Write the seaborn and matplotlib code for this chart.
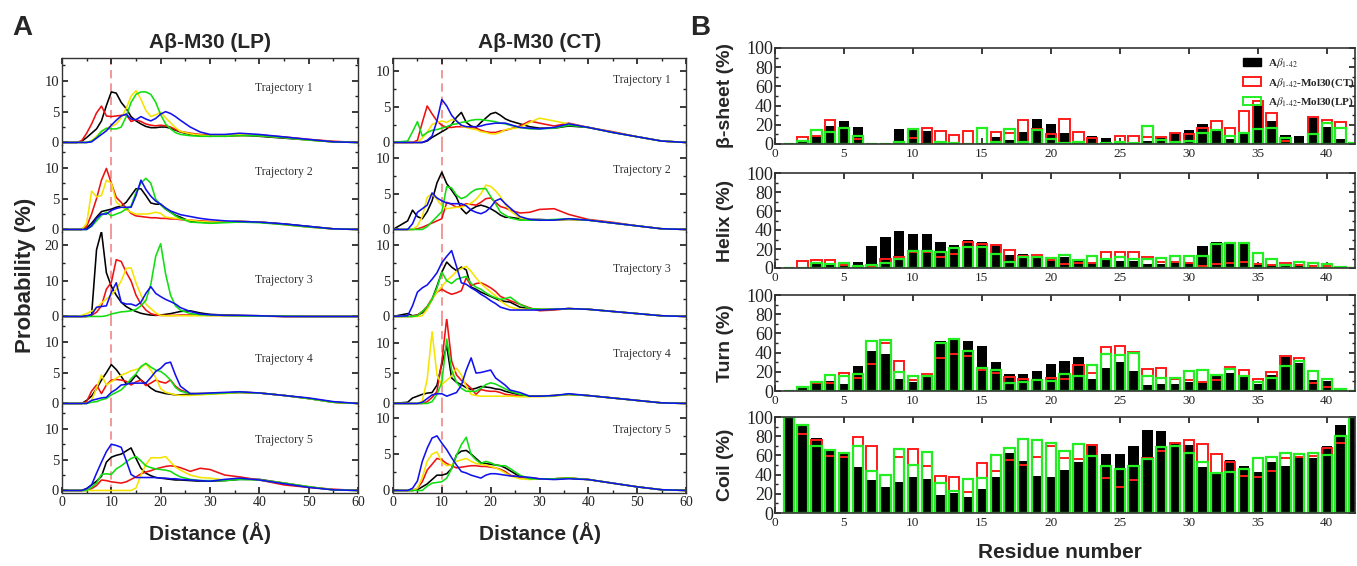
import matplotlib
matplotlib.use('Agg')
import matplotlib.pyplot as plt
from matplotlib.patches import Patch
from matplotlib.ticker import MultipleLocator
import seaborn as sns

# ---------------- Panel A: distance distributions ----------------
DIST = [0, 3, 4, 5, 6, 7, 8, 9, 10, 11, 12, 13, 14, 15, 16, 17, 18, 19, 20, 21, 22,
        23, 24, 26, 28, 30, 33, 36, 40, 45, 50, 55, 60]

LP_TRAJ1 = {
    'black':  [0, 0, 0.2, 0.8, 1.5, 2.2, 3.5, 6, 8.2, 8, 6.5, 5.5, 4.2, 3.5, 3, 2.6, 2.4, 2.4, 2.5, 2.5, 2.3, 2, 1.7, 1.3, 1.1, 1, 1.1, 1.2, 1, 0.7, 0.4, 0.1, 0],
    'red':    [0, 0, 0.3, 1.5, 3, 4.8, 5.9, 4.3, 4.2, 4.3, 4.4, 4.5, 3.4, 3.7, 3.4, 3, 2.8, 2.7, 2.8, 2.7, 2.5, 2.1, 1.8, 1.5, 1.3, 1.2, 1, 1.1, 1.2, 0.9, 0.5, 0.2, 0],
    'yellow': [0, 0, 0, 0, 0.3, 1, 1.8, 2.3, 2.6, 3, 4, 5.5, 7.5, 8.4, 7, 5.2, 4.2, 4.5, 4.9, 4, 3.2, 2.4, 1.8, 1.4, 1.2, 1.1, 1.1, 1.3, 1.1, 0.8, 0.4, 0.1, 0],
    'green':  [0, 0, 0, 0, 0.2, 0.8, 1.8, 2.3, 2.2, 2.2, 2.5, 4.2, 6.5, 7.8, 8.2, 8.2, 7.8, 6.5, 4.5, 3, 2.2, 1.6, 1.3, 1.1, 1, 1, 1, 1.1, 1.1, 0.8, 0.4, 0.1, 0],
    'blue':   [0, 0, 0, 0, 0.1, 0.7, 1.3, 1.9, 2.8, 3.6, 4.3, 4.6, 3.8, 3.7, 4.2, 3.8, 3.5, 3.9, 4.6, 5, 4.7, 4.2, 3.6, 2.5, 1.7, 1.3, 1.3, 1.5, 1.3, 0.9, 0.5, 0.1, 0],
}
LP_TRAJ2 = {
    'black':  [0, 0, 0, 0.2, 1, 2, 2.9, 3.1, 3.3, 3.6, 3.8, 4.4, 5.5, 6.6, 6.6, 5.5, 4.3, 4.1, 4.1, 3.3, 2.8, 2.3, 2, 1.3, 1.2, 1.1, 1.2, 1.3, 1.2, 0.9, 0.5, 0.1, 0],
    'red':    [0, 0, 0, 0.5, 2.5, 5, 8, 9.9, 7.5, 5.2, 4.4, 3.5, 2.6, 2.2, 2.1, 2, 1.9, 1.9, 1.8, 1.8, 1.7, 1.7, 1.6, 1.5, 1.4, 1.3, 1.2, 1.3, 1.2, 0.8, 0.4, 0.1, 0],
    'yellow': [0, 0, 0, 1, 6.2, 5.3, 5.5, 8, 7.5, 4.4, 3.8, 3.2, 2.8, 2.5, 2.5, 2.5, 2.6, 2.8, 2.6, 2, 1.9, 1.8, 1.7, 1.5, 1.3, 1.2, 1.2, 1.3, 1.2, 0.8, 0.4, 0.1, 0],
    'green':  [0, 0, 0, 0, 0.5, 1.4, 2.3, 2.8, 2.2, 2.5, 2.8, 3.3, 3.8, 6, 7.5, 8.3, 7.5, 4.9, 4, 3.3, 2.8, 2.2, 1.8, 1.2, 1.1, 1, 1.1, 1.2, 1.1, 0.8, 0.4, 0.1, 0],
    'blue':   [0, 0, 0, 0, 0.6, 1.8, 2.5, 2.5, 3.1, 3.4, 3.6, 3.6, 3.6, 5.5, 8, 6.5, 5.4, 4.6, 4.1, 3.5, 3, 2.7, 2.4, 2.1, 1.8, 1.6, 1.4, 1.3, 1.2, 0.9, 0.5, 0.1, 0],
}
LP_TRAJ3 = {
    'black':  [0, 0, 0, 0, 0.5, 18.8, 24, 12.3, 8.5, 6, 4, 2.8, 2, 1.4, 0.9, 0.6, 0.4, 0.3, 0.4, 0.6, 0.8, 1.1, 1.4, 1.6, 1, 0.6, 0.4, 0.3, 0.2, 0, 0, 0, 0],
    'red':    [0, 0, 0, 0, 0.3, 1.2, 3, 7.7, 9.6, 16, 15.5, 12.5, 10, 6, 3.5, 1.8, 0.8, 0.4, 0.3, 0.3, 0.3, 0.3, 0.4, 0.4, 0.4, 0.3, 0.3, 0.2, 0.1, 0, 0, 0, 0],
    'yellow': [0, 0, 0.3, 0.8, 1.5, 2.3, 3.8, 4.9, 6, 7.7, 10, 13.5, 13.7, 9.5, 6, 3.5, 2.2, 1, 0.3, 0.2, 0.2, 0.2, 0.2, 0.2, 0.2, 0.2, 0.2, 0.1, 0.1, 0, 0, 0, 0],
    'green':  [0, 0, 0, 0, 0, 0, 0, 0.2, 0.7, 1, 1.3, 1.4, 1.6, 2, 3, 4.5, 9, 17, 20.5, 12, 6, 3, 1.8, 0.8, 0.5, 0.4, 0.3, 0.2, 0.1, 0.1, 0, 0, 0],
    'blue':   [0, 0, 0, 0.2, 0.5, 2.6, 2.8, 3, 6.8, 9.5, 4, 3.5, 3.5, 3, 4, 6.5, 8.4, 6.5, 5.6, 4.8, 4.2, 3.5, 2.5, 1.4, 0.7, 0.5, 0.3, 0.3, 0.2, 0, 0, 0, 0],
}
LP_TRAJ4 = {
    'black':  [0, 0, 0, 0.5, 1.2, 2.4, 3.8, 5, 6.3, 5.5, 4.4, 3.2, 3.6, 4.6, 3.8, 3.2, 2.5, 2, 1.8, 1.6, 1.5, 1.4, 1.4, 1.5, 1.6, 1.6, 1.7, 1.8, 1.7, 1.3, 0.8, 0.2, 0],
    'red':    [0, 0, 0, 0.3, 2, 3, 1.6, 3, 3.8, 3.9, 3.8, 3.6, 3, 3.5, 3.8, 2.9, 3.3, 3.8, 3.5, 3.3, 3.8, 2.8, 2.2, 1.6, 1.6, 1.6, 1.7, 1.8, 1.7, 1.3, 0.8, 0.2, 0],
    'yellow': [0, 0, 0, 0, 0.5, 2.5, 4.6, 3, 3.5, 4.1, 4.6, 4.9, 5.3, 5.5, 5.8, 6.5, 5.4, 4.2, 2.4, 1.8, 1.6, 1.4, 1.3, 1.3, 1.4, 1.5, 1.6, 1.8, 1.7, 1.3, 0.8, 0.2, 0],
    'green':  [0, 0, 0, 0, 0.2, 0.3, 0.6, 0.8, 1.4, 1.8, 2.2, 3, 4, 4.8, 6, 6.5, 5.9, 5.4, 5.2, 4.6, 3.8, 2.6, 2, 1.6, 1.6, 1.6, 1.7, 1.8, 1.7, 1.3, 0.8, 0.2, 0],
    'blue':   [0, 0, 0, 0, 0.5, 0.7, 0.9, 1, 1.8, 2.3, 3, 3.1, 3.3, 3.3, 3.3, 3.3, 4.2, 5.2, 5.7, 6.5, 6.7, 4.6, 2.8, 1.6, 1.6, 1.7, 1.8, 1.9, 1.7, 1.3, 0.9, 0.3, 0],
}
LP_TRAJ5 = {
    'black':  [0, 0, 0, 0.3, 0.9, 1.5, 2.3, 4.6, 5.4, 5.7, 5.9, 6.4, 6.9, 5.2, 3.6, 2.8, 2.4, 2.1, 2, 1.9, 1.8, 1.7, 1.7, 1.6, 1.5, 1.5, 1.6, 1.8, 1.8, 1.2, 0.6, 0.1, 0],
    'red':    [0, 0, 0, 0, 0.3, 0.8, 1.7, 1.6, 1.4, 1.3, 1.2, 1.4, 1.8, 2.2, 2.7, 3, 3.2, 3.5, 3.7, 3.9, 4, 3.9, 3.7, 3.1, 3.6, 3.4, 2.5, 2.2, 1.7, 0.9, 0.5, 0.2, 0],
    'yellow': [0, 0, 0, 0, 0, 0, 0, 0, 0, 0, 0, 0, 0, 0.4, 2.5, 4.2, 5.3, 5.3, 5.3, 5.5, 4.6, 3.8, 3.3, 2.5, 2.1, 2, 1.7, 1.9, 1.7, 1.2, 0.6, 0.1, 0],
    'green':  [0, 0, 0, 0, 0.5, 1.2, 2.6, 2.7, 2.6, 3.5, 4, 4.6, 5.2, 5.5, 4.8, 4, 3.7, 3.5, 3.4, 3.3, 3.1, 2.6, 2.2, 1.8, 1.6, 1.6, 1.6, 1.8, 1.7, 1.2, 0.6, 0.1, 0],
    'blue':   [0, 0, 0, 0.3, 0.9, 2.8, 4.6, 6.3, 7.5, 7.3, 7, 4.9, 2.6, 2.1, 2.1, 2.1, 2.1, 2.1, 2, 2, 1.9, 1.9, 1.8, 1.7, 1.6, 1.5, 1.8, 2, 1.7, 1.1, 0.5, 0.1, 0],
}

CT_TRAJ1 = {
    'black':  [0, 0, 0, 0, 0, 0.2, 0.7, 1.1, 1.5, 1.9, 2.5, 3.5, 4.2, 2.8, 2.3, 2.1, 2.8, 3.4, 4, 4.2, 3.8, 3.3, 3, 2.6, 2.2, 2, 2, 2.3, 2.1, 1.4, 0.8, 0.2, 0],
    'red':    [0, 0, 0, 0.3, 2.8, 5.1, 4, 3, 2.4, 2.1, 2.1, 2.2, 2.2, 2.2, 2.1, 2, 1.7, 1.5, 1.4, 1.4, 1.6, 1.7, 1.9, 2.3, 3, 2.7, 2.3, 2.7, 2.1, 1.5, 0.8, 0.2, 0],
    'yellow': [0, 0, 0, 0, 0.6, 1.4, 2.5, 2.8, 3, 2.8, 3.2, 3.1, 2.3, 2.1, 1.9, 1.8, 1.5, 1.4, 1.2, 1.2, 1.4, 1.8, 1.9, 2.1, 2.8, 3.4, 3, 2.6, 2.1, 1.4, 0.8, 0.2, 0],
    'green':  [0, 0.2, 1.5, 2.9, 0.9, 1.4, 1.7, 1.8, 2, 2.2, 2.5, 2.6, 2.8, 2.9, 3.1, 3.2, 3.2, 3.1, 3, 2.9, 2.7, 2.6, 2.4, 2.1, 1.9, 1.9, 2, 2.4, 2.1, 1.4, 0.8, 0.2, 0],
    'blue':   [0, 0, 0, 0, 0, 0.3, 0.9, 3, 6, 5.1, 3.8, 3, 2.4, 2.2, 2.2, 2.2, 2.3, 2.5, 2.6, 2.7, 2.7, 2.7, 2.5, 2.1, 2, 1.9, 2.1, 2.6, 2.1, 1.4, 0.8, 0.2, 0],
}
CT_TRAJ2 = {
    'black':  [0, 1.2, 2.7, 1.8, 1.5, 2.5, 4, 6.5, 8, 6.4, 5.5, 4.5, 2.9, 2.2, 2.8, 3.2, 3.4, 3.2, 2.9, 2.5, 2, 1.7, 1.7, 1.5, 1.4, 1.4, 1.3, 1.4, 1.3, 0.9, 0.5, 0.1, 0],
    'red':    [0, 0, 0, 0.1, 0.3, 0.6, 0.9, 1.2, 1.5, 3.8, 3.5, 3.1, 3.3, 3.6, 3.5, 3.4, 3.8, 4.3, 4.4, 3.8, 3.2, 3, 2.7, 2.3, 2.4, 2.8, 2.9, 2.1, 1.4, 1, 0.5, 0.1, 0],
    'yellow': [0, 0, 0, 0.5, 1.8, 4.5, 5, 4.2, 3.3, 2.9, 3, 3.1, 3.1, 3.4, 3.7, 4.2, 5, 6.2, 6, 5.4, 4.6, 3.5, 2.6, 1.6, 1.3, 1.3, 1.3, 1.4, 1.3, 0.9, 0.5, 0.1, 0],
    'green':  [0, 0, 0, 0, 0, 0.4, 1.1, 1.8, 2.5, 6, 5.8, 4.8, 4.3, 4.6, 5.2, 5.6, 5.7, 5.7, 4.6, 3.6, 2.4, 2, 1.6, 1.3, 1.3, 1.3, 1.4, 1.5, 1.3, 0.9, 0.5, 0.1, 0],
    'blue':   [0, 0, 0.8, 2.4, 2.9, 3.4, 5.1, 4.4, 4, 3.7, 3.6, 3.6, 3.6, 3.3, 2.7, 2.4, 2.2, 2.5, 3.1, 4, 4.3, 3.6, 3, 1.8, 1.4, 1.3, 1.3, 1.5, 1.3, 0.9, 0.5, 0.1, 0],
}
CT_TRAJ3 = {
    'black':  [0, 0.4, 0.1, 0.2, 0.5, 1.2, 2.4, 4.2, 6.2, 7.6, 6.9, 6.4, 6.9, 6.5, 4.1, 3.8, 3.4, 3.1, 2.8, 2.5, 2.2, 2.1, 2, 1.3, 1.1, 1, 1, 1.1, 1, 0.7, 0.4, 0.1, 0],
    'red':    [0, 0, 0, 0.2, 0.7, 1.4, 2.5, 3.4, 3.8, 3.4, 3.1, 3.3, 3.6, 5.4, 4.3, 4.6, 4.7, 4.4, 4, 3.5, 2.8, 2.5, 2.2, 1.7, 1.2, 0.8, 0.9, 1.1, 1, 0.7, 0.4, 0.1, 0],
    'yellow': [0, 0, 0, 0, 0.1, 1, 2.4, 3.4, 4.2, 5, 5.6, 6.3, 6.7, 7, 6.3, 5.4, 4.6, 4, 3.4, 2.9, 2.2, 1.7, 1.3, 1, 1, 1, 1, 1.1, 1, 0.7, 0.4, 0.1, 0],
    'green':  [0, 0, 0, 0.1, 0.7, 1.3, 2.4, 4, 6.2, 5, 4.6, 5.2, 5.4, 5.6, 4.6, 4.1, 3.8, 3.3, 2.9, 2.6, 2.4, 2.5, 2.7, 1.7, 1.1, 1, 1, 1.1, 1, 0.7, 0.4, 0.1, 0],
    'blue':   [0, 0.1, 1.5, 3.4, 4, 4.4, 5.2, 6.1, 7.5, 8.4, 9.2, 7, 4.7, 4.5, 4, 3.6, 3.1, 2.7, 2.2, 1.8, 1.3, 1.1, 0.9, 0.9, 0.9, 0.9, 1, 1.1, 1, 0.7, 0.4, 0.1, 0],
}
CT_TRAJ4 = {
    'black':  [0, 0.2, 0.9, 1.2, 1.5, 1.7, 1.8, 3, 6.5, 9.5, 4.2, 3.5, 3.1, 2.6, 2.3, 2.5, 2.8, 2.7, 2.6, 2.4, 2.3, 2, 1.8, 1.4, 1.2, 1.2, 1.3, 1.5, 1.3, 0.9, 0.5, 0.1, 0],
    'red':    [0, 0, 0, 0, 0, 0.3, 1, 2, 6.9, 14, 7, 4.7, 3.8, 3.2, 2.5, 1.5, 2.3, 2.1, 2, 2, 1.8, 1.5, 1.4, 1.2, 1.2, 1.2, 1.3, 1.5, 1.3, 0.9, 0.5, 0.1, 0],
    'yellow': [0, 0, 0, 0, 0.4, 4, 11.8, 4.7, 3.1, 3.8, 4.5, 5.8, 4.7, 2.8, 1.5, 1.3, 1.2, 1.2, 1.2, 1.2, 1.2, 1.2, 1.2, 1.1, 1.1, 1.1, 1.2, 1.5, 1.3, 0.9, 0.5, 0.1, 0],
    'green':  [0, 0, 0, 0, 0, 0, 0.3, 1.5, 3.5, 10.6, 5.5, 3.5, 2.5, 2, 2, 2, 2.5, 3.1, 3.4, 3.2, 2.8, 2.4, 2, 1.5, 1.2, 1.2, 1.3, 1.5, 1.3, 0.9, 0.5, 0.1, 0],
    'blue':   [0, 0, 0, 0, 0.2, 0.8, 1.4, 1.6, 1.6, 1.2, 1.5, 1.8, 3, 5.5, 7.5, 5, 5.1, 5.3, 5.5, 4.2, 3.6, 3, 2.2, 1.8, 1.2, 1.2, 1.3, 1.6, 1.3, 0.9, 0.5, 0.1, 0],
}
CT_TRAJ5 = {
    'black':  [0, 0, 0, 0.1, 0.5, 0.9, 1.5, 2.1, 2.1, 2.3, 3, 4.9, 5.4, 5.5, 5, 4.4, 3.8, 3.7, 3.6, 3.5, 3.4, 3.1, 2.7, 1.9, 1.7, 1.6, 1.6, 1.7, 1.5, 1, 0.5, 0.1, 0],
    'red':    [0, 0, 0, 0.3, 1.2, 2.8, 3.6, 4.4, 4.2, 3.7, 3.4, 3.1, 3.2, 3.3, 3.4, 3.4, 3.3, 3.3, 3.2, 3.1, 2.9, 2.6, 2.1, 1.8, 1.7, 1.6, 1.6, 1.7, 1.5, 1, 0.5, 0.1, 0],
    'yellow': [0, 0, 0, 0.3, 1.8, 4, 5, 5.3, 3.9, 3.4, 3.5, 4, 4.2, 4.4, 4, 3.7, 3.6, 3.5, 3.3, 3.1, 2.8, 2.4, 2, 1.6, 1.5, 1.6, 1.6, 1.7, 1.5, 1, 0.5, 0.1, 0],
    'green':  [0, 0, 0, 0, 0, 0.6, 1, 1.1, 1.2, 1.7, 3, 4.8, 6.3, 7.3, 4.9, 4.2, 3.7, 4, 3.8, 3.5, 3.4, 3.4, 3, 2.1, 1.6, 1.6, 1.6, 1.7, 1.5, 1, 0.5, 0.1, 0],
    'blue':   [0, 0, 0.3, 1.3, 4, 5.8, 7.2, 7.5, 6.5, 5.6, 4.5, 3.5, 2.6, 2.4, 2.1, 1.9, 1.7, 2.1, 2.3, 2.3, 2.2, 2.1, 2, 1.9, 1.8, 1.6, 1.5, 1.6, 1.5, 1, 0.5, 0.1, 0],
}

LP_YTOP = [13.7, 13.7, 23.8, 13.7, 13.7]
CT_YTOP = [11.8, 11.8, 11.8, 13.9, 11.6]
LP_TEXT_Y = [0.655, 0.69, 0.45, 0.54, 0.61]
CT_TEXT_Y = [0.75, 0.71, 0.57, 0.60, 0.72]

# ---------------- Panel B: secondary structure per residue ----------------
RESIDUES = list(range(1, 43))

SHEET_ABETA = [0, 2, 8, 19, 24, 18, 0, 0, 16, 15, 14, 0, 0, 0, 0, 7, 4, 12, 26, 21, 11, 0, 8, 6, 0, 0, 3, 6, 11, 15, 21, 14, 5, 10, 42, 24, 9, 8, 27, 18, 5, 0]
SHEET_CT = [0, 7, 8, 25, 0, 5, 0, 0, 0, 6, 17, 14, 9, 14, 0, 13, 11, 25, 16, 10, 26, 12, 6, 0, 8, 8, 7, 7, 11, 10, 17, 24, 17, 34, 45, 32, 3, 0, 28, 25, 23, 1]
SHEET_LP = [0, 3, 15, 12, 17, 8, 0.5, 0.5, 2, 16, 0, 2, 1, 0, 17, 2, 16, 2, 15, 5, 1, 2, 0, 1, 2, 1, 19, 4, 2, 3, 11, 15, 8, 11, 16, 17, 6, 0, 10, 22, 17, 1]

HELIX_ABETA = [0, 0, 5, 4, 4, 6, 23, 33, 39, 36, 36, 27, 24, 29, 27, 25, 14, 15, 12, 11, 12, 8, 6, 9, 7, 7, 4, 4, 5, 5, 23, 27, 25, 26, 3, 3, 2, 4, 3, 1, 0, 0]
HELIX_CT = [0, 7, 8, 8, 3, 0, 2, 10, 12, 17, 17, 12, 15, 27, 25, 24, 19, 13, 14, 8, 4, 5, 5, 17, 17, 17, 12, 6, 6, 5, 2, 4, 5, 6, 4, 3, 5, 3, 2, 2, 0, 0]
HELIX_LP = [0, 0, 5, 4, 5, 2, 3, 5, 10, 18, 18, 17, 21, 22, 22, 15, 6, 12, 12, 11, 14, 8, 13, 10, 12, 10, 9, 11, 13, 13, 13, 25, 26, 26, 16, 9, 3, 6, 5, 4, 1, 0]

TURN_ABETA = [0, 3, 8, 10, 7, 26, 42, 39, 12, 9, 16, 52, 54, 52, 47, 30, 18, 18, 21, 28, 31, 35, 12, 24, 30, 21, 6, 7, 7, 9, 8, 16, 19, 15, 7, 17, 35, 29, 11, 10, 0, 0]
TURN_CT = [0, 4, 8, 8, 19, 14, 28, 50, 31, 11, 18, 34, 39, 36, 22, 19, 15, 12, 11, 14, 13, 27, 19, 46, 47, 41, 23, 24, 13, 11, 9, 11, 25, 22, 13, 20, 36, 34, 8, 4, 0, 0]
TURN_LP = [0, 4, 9, 17, 16, 18, 52, 53, 20, 16, 16, 50, 54, 42, 24, 22, 8, 9, 11, 10, 18, 16, 27, 39, 38, 40, 16, 14, 14, 21, 22, 17, 23, 16, 9, 14, 26, 31, 21, 13, 2, 0]

COIL_ABETA = [100, 92, 78, 65, 64, 48, 34, 27, 32, 37, 35, 19, 21, 17, 25, 37, 63, 54, 39, 37, 45, 53, 72, 61, 61, 70, 86, 85, 74, 71, 48, 43, 55, 49, 43, 53, 49, 58, 57, 70, 92, 100]
COIL_CT = [100, 82, 76, 59, 58, 79, 70, 40, 58, 67, 49, 39, 38, 22, 52, 44, 55, 50, 58, 70, 57, 56, 71, 36, 27, 34, 57, 65, 73, 76, 72, 61, 53, 39, 38, 44, 57, 58, 59, 68, 73, 100]
COIL_LP = [100, 92, 70, 66, 62, 70, 44, 40, 67, 50, 64, 31, 23, 35, 36, 60, 68, 77, 76, 73, 65, 72, 59, 49, 46, 49, 56, 69, 70, 62, 53, 42, 43, 46, 57, 58, 63, 61, 62, 60, 80, 100]

LINE_COLORS = {'black': '#000000', 'red': '#ee1111', 'yellow': '#f5e400',
               'green': '#11dd11', 'blue': '#1111ee'}

sns.set_theme(style='ticks')
plt.rcParams['font.family'] = ['Liberation Sans', 'DejaVu Sans']
plt.rcParams['mathtext.fontset'] = 'stix'
plt.rcParams['axes.edgecolor'] = '#333333'
SERIF = 'Liberation Serif'

W, H = 1357, 566
fig = plt.figure(figsize=(W / 100, H / 100), dpi=100)


def px_axes(left, top, right, bottom):
    return fig.add_axes([left / W, 1 - bottom / H, (right - left) / W, (bottom - top) / H])


def draw_column(x_left, x_right, trajs, ytops, text_y, text_x):
    tops = [58, 145, 232, 319, 406]
    n = len(trajs)
    for i, (traj, ytop) in enumerate(zip(trajs, ytops)):
        ax = px_axes(x_left, tops[i], x_right, tops[i] + 87)
        for name in ['black', 'red', 'yellow', 'green', 'blue']:
            sns.lineplot(x=DIST, y=traj[name], color=LINE_COLORS[name], lw=1.15, ax=ax)
        ax.axvline(10, color='#f08888', ls=(0, (5, 3)), lw=1.2, zorder=0)
        ax.set_xlim(0, 60)
        ax.set_ylim(-0.03 * ytop, ytop)
        step = 10 if ytop > 20 else 5
        ax.yaxis.set_major_locator(MultipleLocator(step))
        ax.yaxis.set_minor_locator(MultipleLocator(step / 2))
        ax.xaxis.set_major_locator(MultipleLocator(10))
        ax.xaxis.set_minor_locator(MultipleLocator(5))
        ax.set_yticks([t for t in range(0, int(ytop) + 1, step)])
        ax.set_xlabel('')
        ax.set_ylabel('')
        ax.tick_params(which='both', direction='in', left=True, right=True,
                       top=(i == 0), bottom=(i == n - 1), labelbottom=(i == n - 1),
                       labelfontfamily=SERIF, pad=2, colors='#222222')
        ax.tick_params(axis='y', labelsize=10.5)
        ax.tick_params(axis='x', labelsize=10)
        ax.tick_params(which='major', length=4)
        ax.tick_params(which='minor', length=2)
        for side in ['left', 'right', 'top', 'bottom']:
            ax.spines[side].set_linewidth(1.0)
        if i > 0:
            ax.spines['top'].set_visible(False)
        if i < n - 1:
            ax.spines['bottom'].set_visible(False)
        ax.text(text_x, text_y[i], f'Trajectory {i + 1}', transform=ax.transAxes,
                ha='center', va='center', fontsize=8.5, family=SERIF, color='#333333')
        ax.patch.set_alpha(0)


draw_column(62, 358, [LP_TRAJ1, LP_TRAJ2, LP_TRAJ3, LP_TRAJ4, LP_TRAJ5], LP_YTOP, LP_TEXT_Y, 0.75)
draw_column(393, 686, [CT_TRAJ1, CT_TRAJ2, CT_TRAJ3, CT_TRAJ4, CT_TRAJ5], CT_YTOP, CT_TEXT_Y, 0.85)

fig.text(210 / W, 1 - 42 / H, 'Aβ-M30 (LP)', ha='center', va='center', fontsize=15, weight='bold')
fig.text(540 / W, 1 - 42 / H, 'Aβ-M30 (CT)', ha='center', va='center', fontsize=15, weight='bold')
fig.text(26 / W, 1 - 275 / H, 'Probability (%)', ha='center', va='center', rotation=90,
         fontsize=16, weight='bold')
fig.text(210 / W, 1 - 533 / H, 'Distance (Å)', ha='center', va='center', fontsize=15, weight='bold')
fig.text(540 / W, 1 - 533 / H, 'Distance (Å)', ha='center', va='center', fontsize=15, weight='bold')
fig.text(12 / W, 1 - 28 / H, 'A', ha='left', va='center', fontsize=20, weight='bold')
fig.text(690 / W, 1 - 28 / H, 'B', ha='left', va='center', fontsize=20, weight='bold')

# ---------------- Panel B ----------------
b_rows = [
    ('β-sheet (%)', SHEET_ABETA, SHEET_CT, SHEET_LP, 48, 144),
    ('Helix (%)', HELIX_ABETA, HELIX_CT, HELIX_LP, 173, 268),
    ('Turn (%)', TURN_ABETA, TURN_CT, TURN_LP, 295, 391),
    ('Coil (%)', COIL_ABETA, COIL_CT, COIL_LP, 417, 513),
]
BAR_W = 0.75
for k, (label, abeta, ct, lp, top, bottom) in enumerate(b_rows):
    ax = px_axes(775, top, 1355, bottom)
    sns.barplot(x=RESIDUES, y=abeta, native_scale=True, color='black', width=BAR_W,
                errorbar=None, linewidth=0, saturation=1, ax=ax)
    sns.barplot(x=RESIDUES, y=ct, native_scale=True, color='#ff1a1a', width=BAR_W,
                errorbar=None, fill=False, linewidth=1.4, ax=ax)
    sns.barplot(x=RESIDUES, y=lp, native_scale=True, color='#22ee22', width=BAR_W,
                errorbar=None, fill=False, linewidth=1.6, ax=ax)
    ax.set_xlim(0, 42.05)
    ax.set_ylim(0, 100)
    ax.set_xticks(range(0, 41, 5))
    ax.set_yticks(range(0, 101, 20))
    ax.yaxis.set_minor_locator(MultipleLocator(10))
    ax.set_xlabel('')
    ax.set_ylabel('')
    ax.tick_params(axis='y', labelsize=13, pad=1.5)
    ax.tick_params(axis='x', labelsize=9.5, pad=3)
    ax.tick_params(which='both', direction='in', top=True, right=True, colors='#222222',
                   labelfontfamily=SERIF)
    ax.tick_params(which='major', length=4)
    ax.tick_params(which='minor', length=2)
    for side in ['left', 'right', 'top', 'bottom']:
        ax.spines[side].set_linewidth(1.2)
    fig.text(726 / W, 1 - (top + bottom) / 2 / H, label, ha='center', va='center',
             rotation=90, fontsize=14, weight='bold')
    if k == 0:
        handles = [Patch(facecolor='black', edgecolor='black'),
                   Patch(facecolor='none', edgecolor='#ff1a1a', linewidth=1.4),
                   Patch(facecolor='none', edgecolor='#22ee22', linewidth=1.4)]
        labels = [r'A$\beta_{\mathrm{1\text{-}42}}$',
                  r'A$\beta_{\mathrm{1\text{-}42}}$-Mol30(CT)',
                  r'A$\beta_{\mathrm{1\text{-}42}}$-Mol30(LP)']
        ax.legend(handles, labels, loc='upper left', bbox_to_anchor=(0.79, 1.02),
                  frameon=False, handlelength=1.6, handleheight=0.8, handletextpad=0.6,
                  labelspacing=0.55, prop={'family': SERIF, 'weight': 'bold', 'size': 8})

fig.text(1060 / W, 1 - 552 / H, 'Residue number', ha='center', va='center', fontsize=15,
         weight='bold')

fig.savefig('out.png', dpi=100)
